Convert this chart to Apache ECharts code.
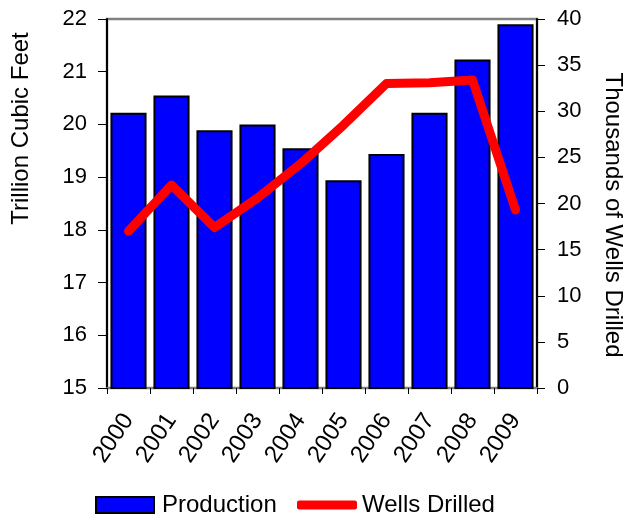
<!DOCTYPE html>
<html>
<head>
<meta charset="utf-8">
<script src="https://cdn.jsdelivr.net/npm/echarts@6/dist/echarts.min.js"></script>
<style>
  html, body { margin: 0; padding: 0; background: #fff; }
  #chart { width: 627px; height: 519px; }
</style>
</head>
<body>
<div id="chart"></div>
<script>
// 数据
const years = ['2000', '2001', '2002', '2003', '2004', '2005', '2006', '2007', '2008', '2009']
const production = [20.22, 20.55, 19.89, 20.0, 19.55, 18.94, 19.44, 20.22, 21.23, 21.9]
const wellsDrilled = [17.0, 22.0, 17.4, 20.6, 24.3, 28.5, 33.0, 33.1, 33.4, 19.3]
const leftTicks = {min: 15, max: 22, interval: 1}
const rightTicks = {min: 0, max: 40, interval: 5}

const font = '"Liberation Sans", Arial, sans-serif'
const chart = echarts.init(document.getElementById('chart'))

const option = {
  animation: false,
  textStyle: {fontFamily: font, color: '#000'},
  grid: {
    left: 107,
    right: 90,
    top: 19,
    bottom: 131,
    outerBoundsMode: 'none',
    containLabel: false,
    show: true,
    borderColor: '#808080',
    borderWidth: 2.5
  },
  legend: [
    {
      data: [{name: 'Production', icon: 'rect'}],
      left: 95,
      top: 493,
      padding: 0,
      itemWidth: 58,
      itemHeight: 16,
      textStyle: {fontSize: 24, fontFamily: font, color: '#000', padding: [0, 0, 0, 3]}
    },
    {
      data: [{name: 'Wells Drilled', icon: 'roundRect', itemStyle: {color: '#ff0000'}}],
      left: 297,
      top: 493,
      padding: 0,
      itemWidth: 60,
      itemHeight: 9,
      textStyle: {fontSize: 24, fontFamily: font, color: '#000'}
    }
  ],
  xAxis: {
    type: 'category',
    data: years,
    axisLine: {lineStyle: {color: '#808080', width: 2}},
    axisTick: {show: true, length: 6, lineStyle: {color: '#000'}},
    axisLabel: {fontSize: 24, rotate: 56, margin: 28, color: '#000', fontFamily: font},
    splitLine: {show: false}
  },
  yAxis: [
    {
      type: 'value',
      ...leftTicks,
      position: 'left',
      name: 'Trillion Cubic Feet',
      nameLocation: 'middle',
      nameRotate: 90,
      nameGap: 74,
      nameTextStyle: {fontSize: 24, fontFamily: font, color: '#000', padding: [0, 0, 0, 150]},
      axisLine: {show: true, lineStyle: {color: '#000', width: 2}},
      axisTick: {show: true, length: 9, lineStyle: {color: '#000'}},
      axisLabel: {fontSize: 22, margin: 20, color: '#000', fontFamily: font},
      splitLine: {show: false}
    },
    {
      type: 'value',
      ...rightTicks,
      position: 'right',
      name: 'Thousands of Wells Drilled',
      nameLocation: 'middle',
      nameRotate: -90,
      nameGap: 64,
      nameTextStyle: {fontSize: 24, fontFamily: font, color: '#000', padding: [0, 0, 0, 23]},
      axisLine: {show: true, lineStyle: {color: '#000', width: 2}},
      axisTick: {show: true, length: 8, lineStyle: {color: '#000'}},
      axisLabel: {fontSize: 22, margin: 20, color: '#000', fontFamily: font},
      splitLine: {show: false}
    }
  ],
  series: [
    {
      name: 'Production',
      type: 'bar',
      data: production,
      barCategoryGap: '16%',
      itemStyle: {color: '#0000ff', borderColor: '#000', borderWidth: 2}
    },
    {
      name: 'Wells Drilled',
      type: 'line',
      yAxisIndex: 1,
      data: wellsDrilled,
      symbol: 'none',
      itemStyle: {color: '#ff0000'},
      lineStyle: {color: '#ff0000', width: 9, cap: 'round', join: 'round'}
    }
  ]
}

chart.setOption(option)
</script>
</body>
</html>
